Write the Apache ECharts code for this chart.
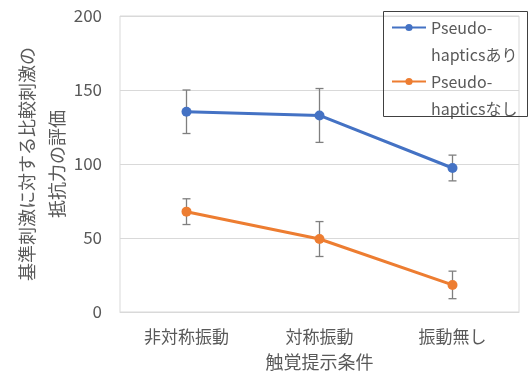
<!DOCTYPE html>
<html>
<head>
<meta charset="utf-8">
<script src="https://cdn.jsdelivr.net/npm/echarts@6/dist/echarts.min.js"></script>
<style>
  html, body { margin: 0; padding: 0; background: #fff; }
  #chart { width: 529px; height: 374px; }
</style>
</head>
<body>
<div id="chart"></div>
<script>
var categories = ['非対称振動', '対称振動', '振動無し']
var seriesNames = ['Pseudo-hapticsあり', 'Pseudo-hapticsなし']
var withValues = [135.3, 132.8, 97.3]
var withErrors = [14.7, 18.2, 8.7]
var withoutValues = [67.8, 49.3, 18.3]
var withoutErrors = [8.7, 11.8, 9.3]
var yTicks = [0, 50, 100, 150, 200]

var font = '"Noto Sans CJK JP", sans-serif'
var gray = '#595959'

function errorData(values, errors) {
  return values.map(function (v, i) {
    return [i, v - errors[i], v + errors[i]]
  })
}

function errorSeries(values, errors) {
  return {
    type: 'custom',
    silent: true,
    z: 1,
    data: errorData(values, errors),
    renderItem: function (params, api) {
      var lo = api.coord([api.value(0), api.value(1)])
      var hi = api.coord([api.value(0), api.value(2)])
      var w = 4
      var style = { stroke: '#7f7f7f', lineWidth: 1.3 }
      return {
        type: 'group',
        children: [
          { type: 'line', shape: { x1: hi[0], y1: hi[1], x2: lo[0], y2: lo[1] }, style: style },
          { type: 'line', shape: { x1: hi[0] - w, y1: hi[1], x2: hi[0] + w, y2: hi[1] }, style: style },
          { type: 'line', shape: { x1: lo[0] - w, y1: lo[1], x2: lo[0] + w, y2: lo[1] }, style: style }
        ]
      }
    }
  }
}

function lineSeries(name, values, color) {
  return {
    name: name,
    type: 'line',
    z: 3,
    data: values,
    symbol: 'circle',
    symbolSize: 10,
    lineStyle: { color: color, width: 3 },
    itemStyle: { color: color }
  }
}

var chart = echarts.init(document.getElementById('chart'))
chart.setOption({
  animation: false,
  textStyle: { fontFamily: font },
  grid: {
    left: 120,
    right: 10,
    top: 16,
    bottom: 62,
    containLabel: false,
    outerBoundsMode: 'none',
    show: true,
    borderColor: '#d9d9d9',
    borderWidth: 1
  },
  legend: {
    orient: 'vertical',
    left: 391,
    top: -13,
    padding: 0,
    itemGap: -27,
    itemWidth: 34,
    itemHeight: 9,
    data: seriesNames,
    // blank first line keeps the icon level with "Pseudo-"
    formatter: function (name) {
      return ' \n' + name.replace('Pseudo-', 'Pseudo-\n')
    },
    textStyle: {
      fontFamily: font,
      fontSize: 16,
      color: gray,
      lineHeight: 27
    }
  },
  graphic: [{
    type: 'rect',
    shape: { x: 383.5, y: 11.5, width: 144, height: 105 },
    style: { fill: null, stroke: '#404040', lineWidth: 1 },
    z: 10
  }],
  xAxis: {
    type: 'category',
    data: categories,
    boundaryGap: true,
    name: '触覚提示条件',
    nameLocation: 'middle',
    nameGap: 41,
    nameMoveOverlap: false,
    nameTextStyle: { fontFamily: font, fontSize: 18, color: gray },
    axisLine: { show: true, lineStyle: { color: '#d9d9d9' } },
    axisTick: { show: false },
    axisLabel: { fontFamily: font, fontSize: 17, color: gray, margin: 16 }
  },
  yAxis: {
    type: 'value',
    min: yTicks[0],
    max: yTicks[yTicks.length - 1],
    interval: yTicks[1] - yTicks[0],
    name: '基準刺激に対する比較刺激の\n抵抗力の評価',
    nameLocation: 'middle',
    nameRotate: 90,
    nameGap: 48,
    nameMoveOverlap: false,
    nameTextStyle: { fontFamily: font, fontSize: 18, color: gray, lineHeight: 30 },
    axisLine: { show: false },
    axisTick: { show: false },
    splitLine: { lineStyle: { color: '#d9d9d9' } },
    axisLabel: { fontFamily: font, fontSize: 17, color: gray, margin: 18 }
  },
  series: [
    errorSeries(withValues, withErrors),
    errorSeries(withoutValues, withoutErrors),
    lineSeries(seriesNames[0], withValues, '#4472c4'),
    lineSeries(seriesNames[1], withoutValues, '#ed7d31')
  ]
})
</script>
</body>
</html>
